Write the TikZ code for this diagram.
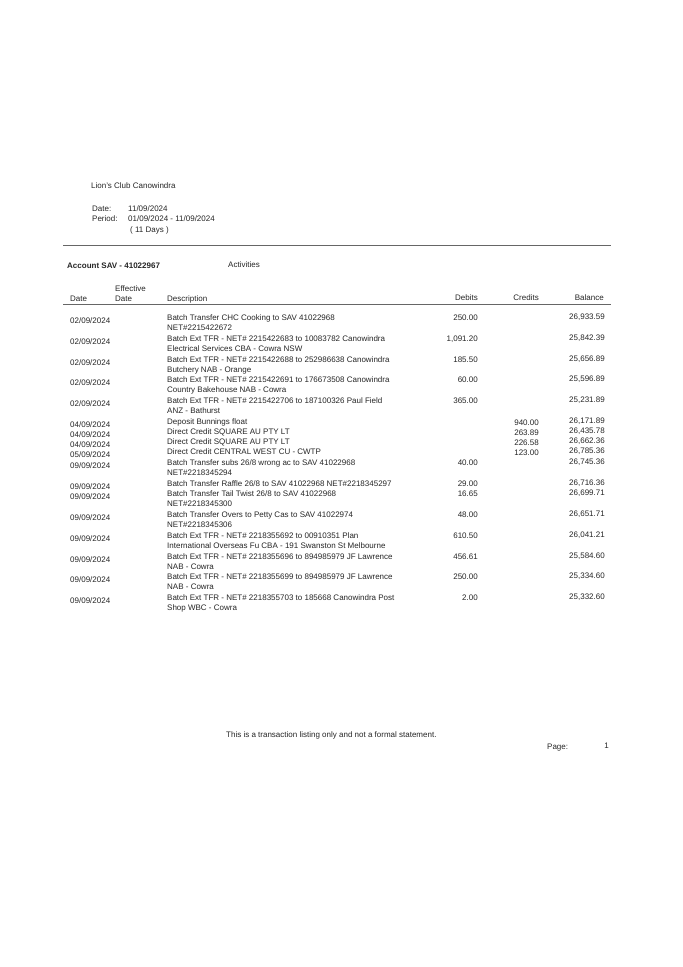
\documentclass[tikz,border=0pt]{standalone}
\usepackage{fontspec}
\setmainfont{Liberation Sans}
\begin{document}
\begin{tikzpicture}[x=1pt,y=-1pt,
  t/.style={anchor=base west,inner sep=0pt,font=\fontsize{8}{9.6}\selectfont,text=black!85},
  r/.style={anchor=base east,inner sep=0pt,font=\fontsize{8}{9.6}\selectfont,text=black!85},
  d/.style={t,align=left}]
\useasboundingbox[fill=white] (0,0) rectangle (683,967);
\node[t] (club) at (91,188) {Lion's Club Canowindra};
\node[t] (dl) at (92,211) {Date:};
\node[t] (dv) at (128,211) {11/09/2024};
\node[t] (pl) at (92,221) {Period:};
\node[t] (pv) at (128,221) {01/09/2024 - 11/09/2024};
\node[t] (days) at (130,232) {( 11 Days )};
\draw[black!60,line width=0.9pt] (63,245) -- (611,245);
\node[t,font=\bfseries\fontsize{8}{9.6}\selectfont] (acct) at (67,268) {Account SAV - 41022967};
\node[t] (act) at (228,267) {Activities};
\node[t] (eff) at (115,291) {Effective};
\node[t] (hd) at (70,301) {Date};
\node[t] (hed) at (115,301) {Date};
\node[t] (hdesc) at (167,301) {Description};
\node[r] (hdeb) at (478,300) {Debits};
\node[r] (hcr) at (539,300) {Credits};
\node[r] (hbal) at (604,300) {Balance};
\draw[black!60,line width=0.9pt] (63,304) -- (611,304);
\foreach \y/\dt/\desc/\deb/\crd/\bal [count=\i] in {
321/02\slash09\slash2024/{Batch Transfer CHC Cooking to SAV 41022968\\NET\#2215422672}/250.00//26{,}933.59,
342/02\slash09\slash2024/{Batch Ext TFR - NET\# 2215422683 to 10083782 Canowindra\\Electrical Services CBA - Cowra NSW}/1{,}091.20//25{,}842.39,
363/02\slash09\slash2024/{Batch Ext TFR - NET\# 2215422688 to 252986638 Canowindra\\Butchery NAB - Orange}/185.50//25{,}656.89,
383/02\slash09\slash2024/{Batch Ext TFR - NET\# 2215422691 to 176673508 Canowindra\\Country Bakehouse NAB - Cowra}/60.00//25{,}596.89,
404/02\slash09\slash2024/{Batch Ext TFR - NET\# 2215422706 to 187100326 Paul Field\\ANZ - Bathurst}/365.00//25{,}231.89,
425/04\slash09\slash2024/{Deposit Bunnings float}//940.00/26{,}171.89,
435/04\slash09\slash2024/{Direct Credit SQUARE AU PTY LT}//263.89/26{,}435.78,
445/04\slash09\slash2024/{Direct Credit SQUARE AU PTY LT}//226.58/26{,}662.36,
455/05\slash09\slash2024/{Direct Credit CENTRAL WEST CU - CWTP}//123.00/26{,}785.36,
466/09\slash09\slash2024/{Batch Transfer subs 26/8 wrong ac to SAV 41022968\\NET\#2218345294}/40.00//26{,}745.36,
487/09\slash09\slash2024/{Batch Transfer Raffle 26/8 to SAV 41022968 NET\#2218345297}/29.00//26{,}716.36,
497/09\slash09\slash2024/{Batch Transfer Tail Twist 26/8 to SAV 41022968\\NET\#2218345300}/16.65//26{,}699.71,
518/09\slash09\slash2024/{Batch Transfer Overs to Petty Cas to SAV 41022974\\NET\#2218345306}/48.00//26{,}651.71,
539/09\slash09\slash2024/{Batch Ext TFR - NET\# 2218355692 to 00910351 Plan\\International Overseas Fu CBA - 191 Swanston St Melbourne}/610.50//26{,}041.21,
560/09\slash09\slash2024/{Batch Ext TFR - NET\# 2218355696 to 894985979 JF Lawrence\\NAB - Cowra}/456.61//25{,}584.60,
580/09\slash09\slash2024/{Batch Ext TFR - NET\# 2218355699 to 894985979 JF Lawrence\\NAB - Cowra}/250.00//25{,}334.60,
601/09\slash09\slash2024/{Batch Ext TFR - NET\# 2218355703 to 185668 Canowindra Post\\Shop WBC - Cowra}/2.00//25{,}332.60}
{
  \node[t] (date\i) at (70,\y+2) {\dt};
  \node[d,anchor=north west] (desc\i) at (167,\y-6.2) {\desc};
  \node[r] (deb\i) at (478,\y-1) {\deb};
  \node[r] (cr\i) at (539,\y) {\crd};
  \node[r] (bal\i) at (605,\y-2) {\bal};
}
\node[t] (foot) at (226,737) {This is a transaction listing only and not a formal statement.};
\node[t] (page) at (547,749) {Page:};
\node[r] (pnum) at (609,748) {1};
\end{tikzpicture}
\end{document}
